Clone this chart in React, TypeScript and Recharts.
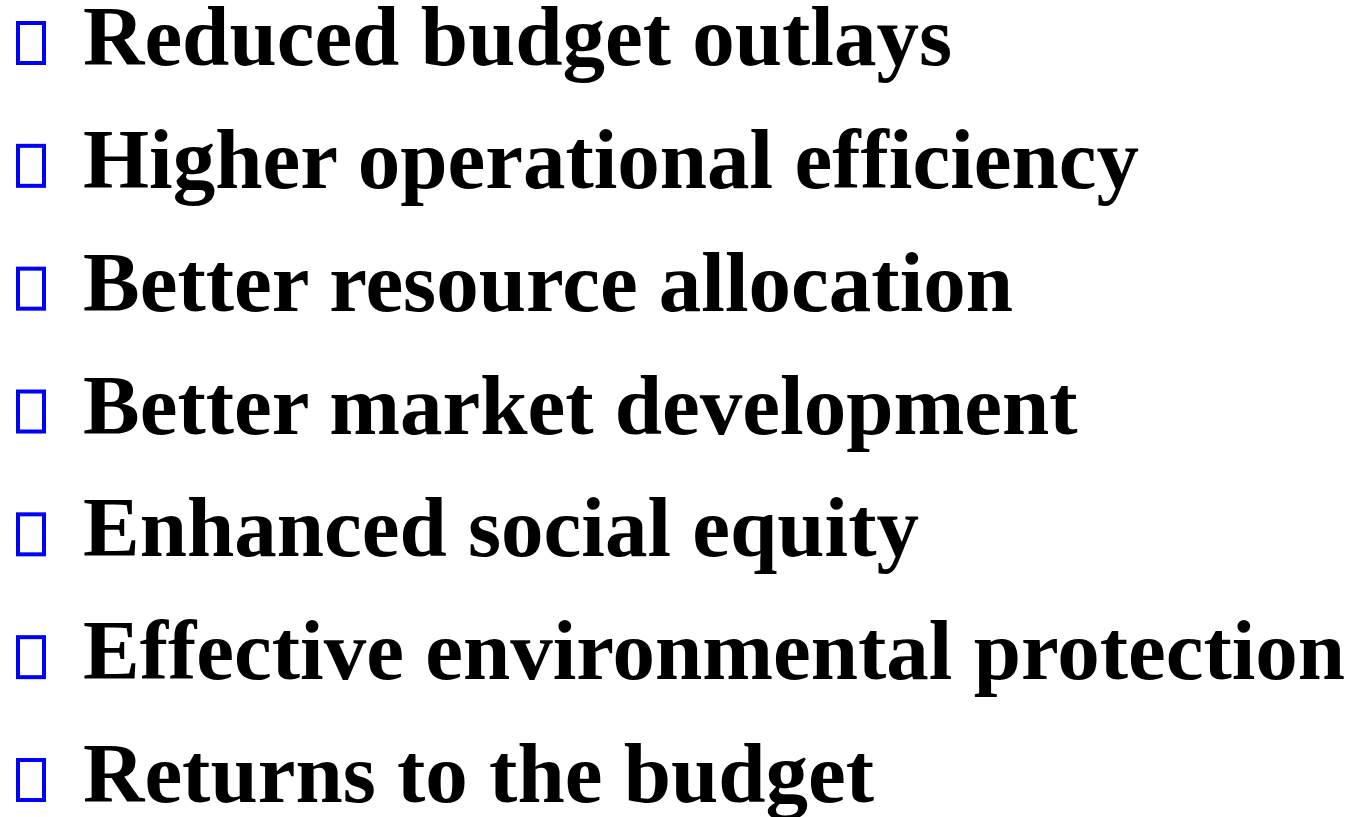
import { ScatterChart, Scatter, XAxis, YAxis } from 'recharts';

const ITEMS = [
  'Reduced budget outlays',
  'Higher operational efficiency',
  'Better resource allocation',
  'Better market development',
  'Enhanced social equity',
  'Effective environmental protection',
  'Returns to the budget',
];

const POSITIONS = [0, 1, 2, 3, 4, 5, 6];

const data = ITEMS.map((label, i) => ({ x: 0, y: POSITIONS[i], label }));

const BLUE = '#0000ff';

// bullet box + bold label, anchored at the baseline of each line
function BulletRow(props: any) {
  const { cx, cy, payload } = props;
  return (
    <g>
      <rect
        x={cx + 2}
        y={cy - 42}
        width={26}
        height={40}
        fill="none"
        stroke={BLUE}
        strokeWidth={4}
      />
      <text
        x={cx + 67}
        y={cy}
        fontFamily="'Liberation Serif', 'Times New Roman', serif"
        fontWeight="bold"
        fontSize={85}
        fill="#000"
      >
        {payload.label}
      </text>
    </g>
  );
}

export default function App() {
  return (
    <div
      style={{
        position: 'absolute',
        left: 0,
        top: 0,
        width: 1360,
        height: 817,
        background: '#fff',
        overflow: 'hidden',
      }}
    >
      <ScatterChart
        width={1360}
        height={817}
        margin={{ top: 65, right: 0, bottom: 15, left: 16 }}
        style={{ overflow: 'visible' }}
      >
        <XAxis type="number" dataKey="x" domain={[0, 1]} hide />
        <YAxis type="number" dataKey="y" domain={[0, 6]} reversed hide />
        <Scatter data={data} shape={<BulletRow />} isAnimationActive={false} />
      </ScatterChart>
    </div>
  );
}
